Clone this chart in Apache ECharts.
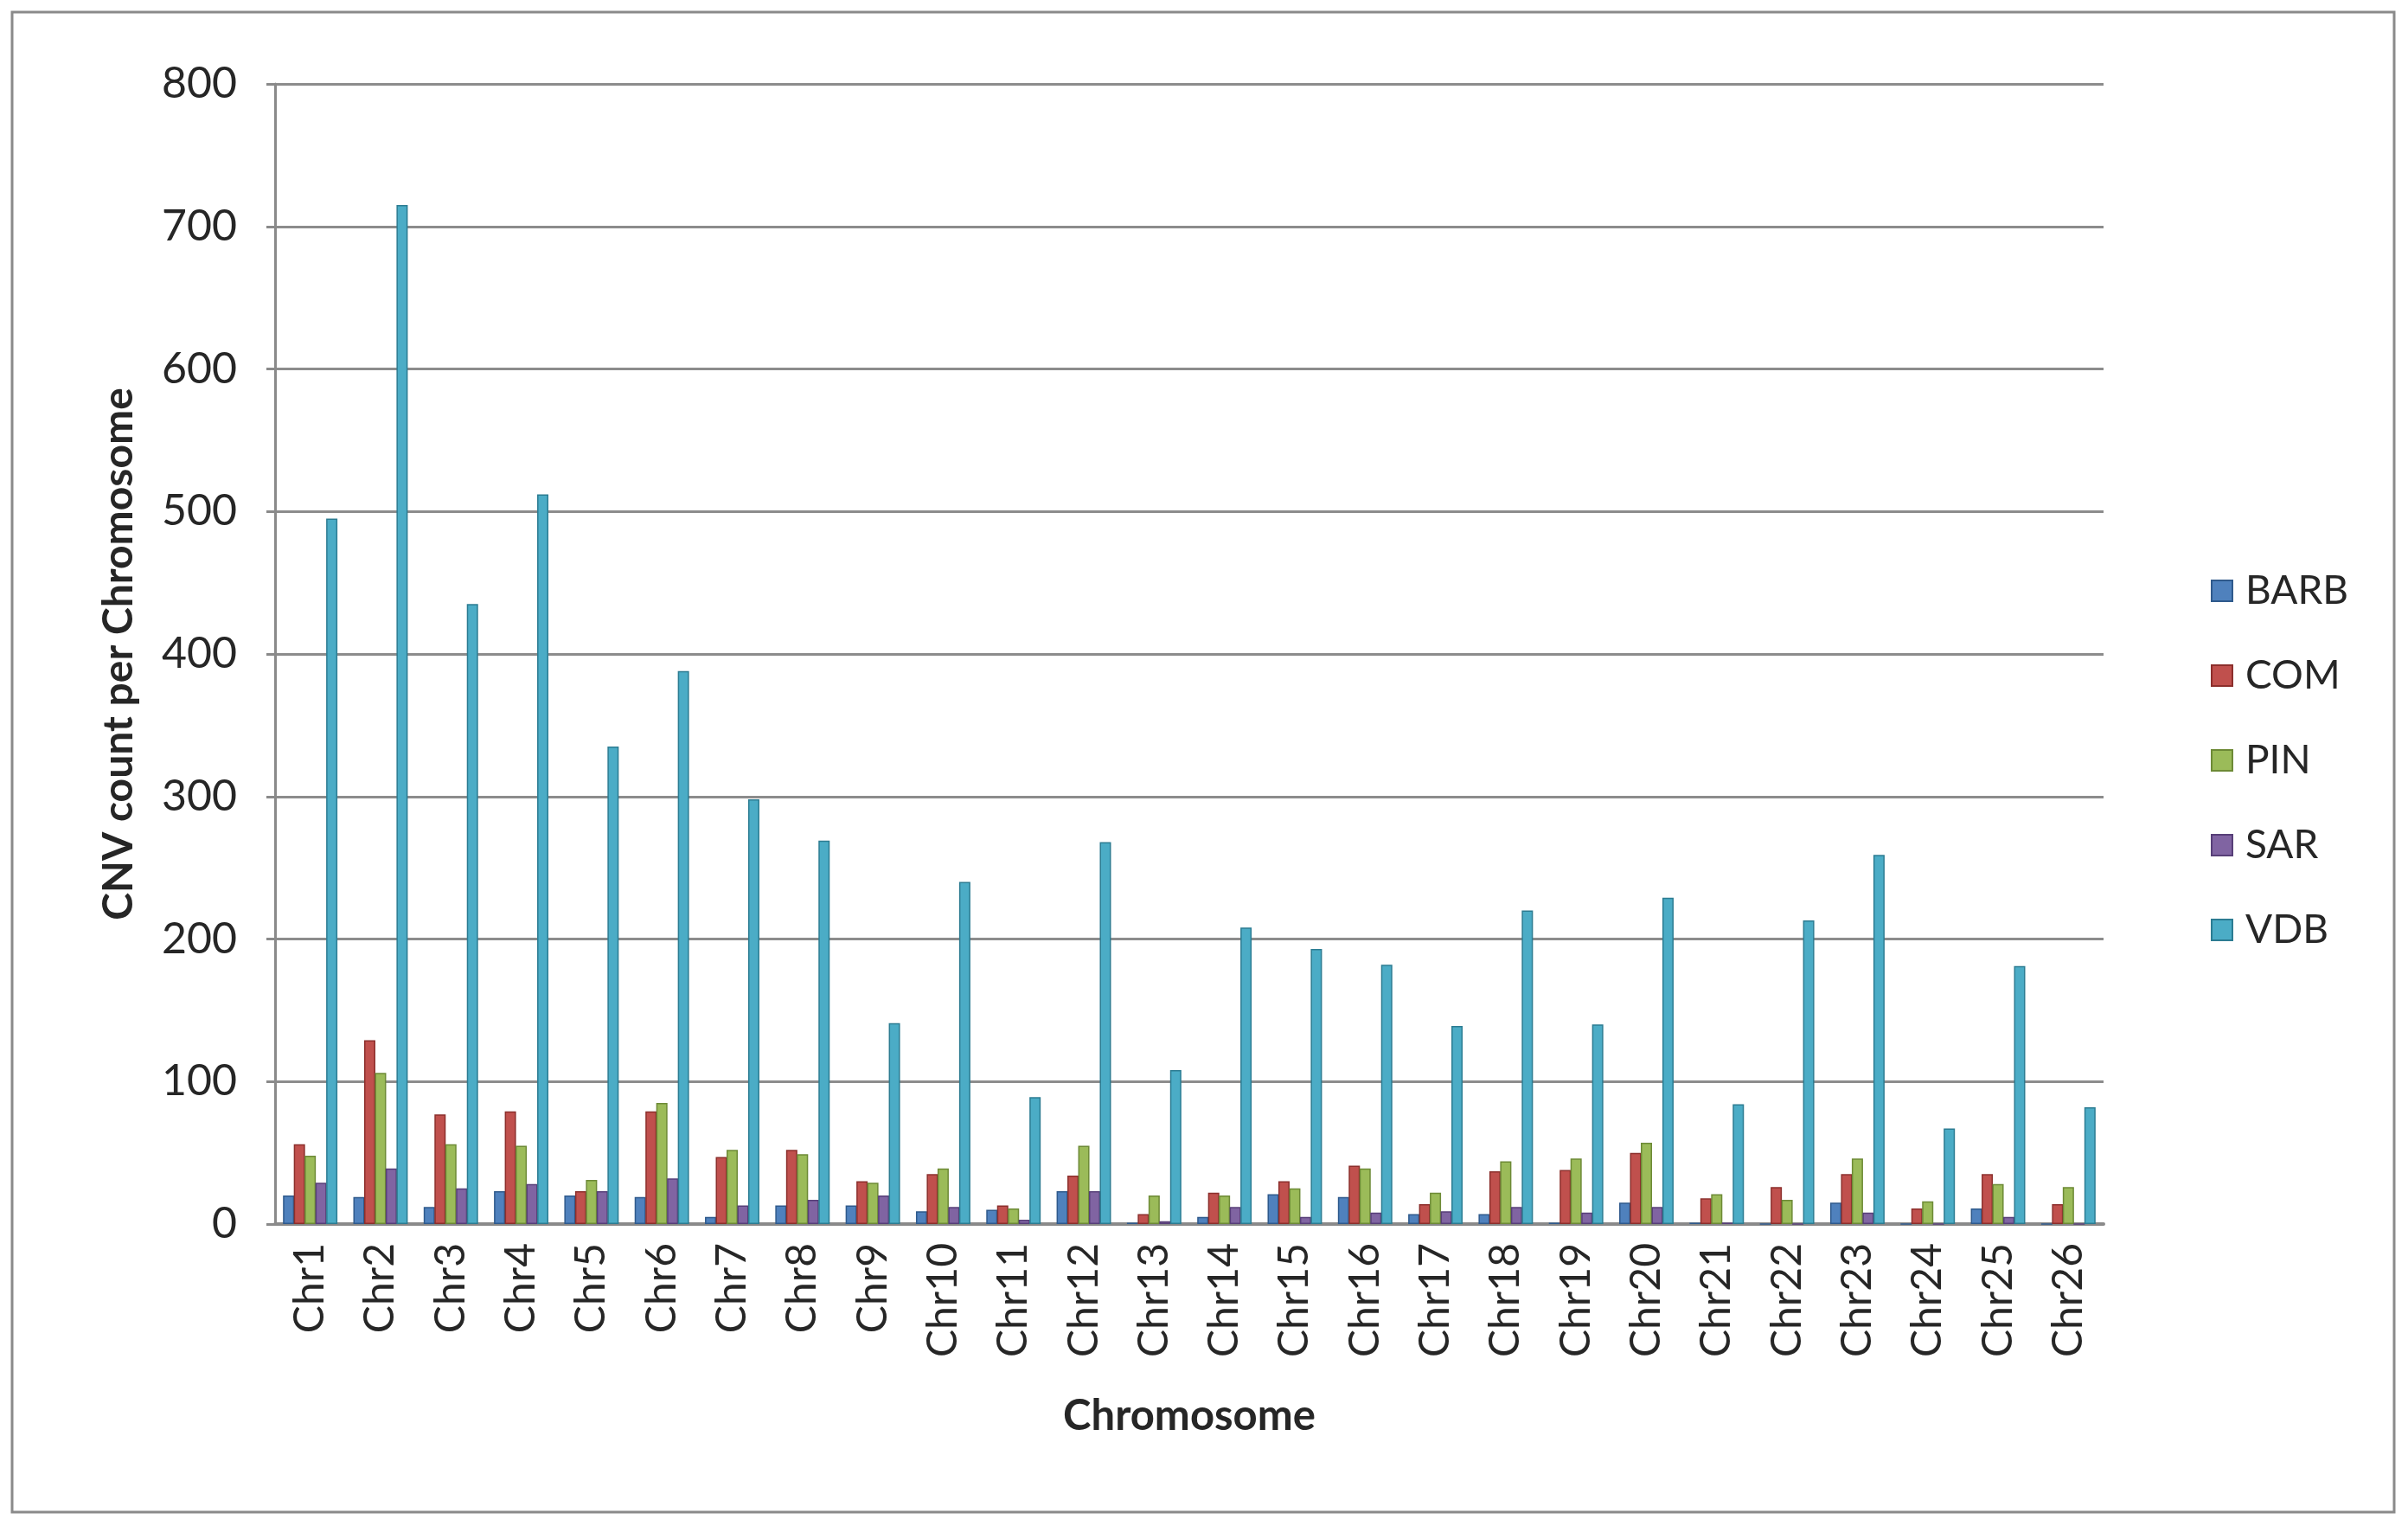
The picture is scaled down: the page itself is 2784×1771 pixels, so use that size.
<!DOCTYPE html>
<html>
<head>
<meta charset="utf-8">
<script src="https://cdn.jsdelivr.net/npm/echarts@6/dist/echarts.min.js"></script>
<style>
  html, body { margin: 0; padding: 0; background: #ffffff; }
  #chart { width: 2784px; height: 1771px; }
</style>
</head>
<body>
<div id="chart"></div>
<script>
const categories = ['Chr1','Chr2','Chr3','Chr4','Chr5','Chr6','Chr7','Chr8','Chr9','Chr10','Chr11','Chr12','Chr13','Chr14','Chr15','Chr16','Chr17','Chr18','Chr19','Chr20','Chr21','Chr22','Chr23','Chr24','Chr25','Chr26'];
const seriesNames = ['BARB', 'COM', 'PIN', 'SAR', 'VDB'];
const BARB = [20, 19, 12, 23, 20, 19, 5, 13, 13, 9, 10, 23, 1, 5, 21, 19, 7, 7, 1, 15, 1, 0, 15, 0, 11, 0];
const COM  = [56, 129, 77, 79, 23, 79, 47, 52, 30, 35, 13, 34, 7, 22, 30, 41, 14, 37, 38, 50, 18, 26, 35, 11, 35, 14];
const PIN  = [48, 106, 56, 55, 31, 85, 52, 49, 29, 39, 11, 55, 20, 20, 25, 39, 22, 44, 46, 57, 21, 17, 46, 16, 28, 26];
const SAR  = [29, 39, 25, 28, 23, 32, 13, 17, 20, 12, 3, 23, 2, 12, 5, 8, 9, 12, 8, 12, 1, 0, 8, 0, 5, 0];
const VDB  = [495, 715, 435, 512, 335, 388, 298, 269, 141, 240, 89, 268, 108, 208, 193, 182, 139, 220, 140, 229, 84, 213, 259, 67, 181, 82];
const yTicks = { min: 0, max: 800, interval: 100 };

const seriesData = [BARB, COM, PIN, SAR, VDB];
const colors = ['#4F81BD', '#C0504D', '#9BBB59', '#8064A2', '#4BACC6'];
const edgeColors = ['#2f5a8c', '#8c2f2c', '#6d8a36', '#573f78', '#2c7c92'];

const FONT = 'Lato, "Open Sans", sans-serif';
const TXT = '#262626';

const chart = echarts.init(document.getElementById('chart'), null, { renderer: 'canvas' });
chart.setOption({
  animation: false,
  backgroundColor: '#ffffff',
  graphic: [{
    type: 'rect',
    shape: { x: 14, y: 14, width: 2754, height: 1734 },
    style: { fill: 'none', stroke: '#8a8a8a', lineWidth: 3 },
    z: 0
  }],
  grid: { left: 318, right: 352, top: 97, bottom: 356, containLabel: false },
  legend: {
    orient: 'vertical',
    left: 2551,
    top: 655,
    data: seriesNames,
    icon: 'rect',
    itemWidth: 24,
    itemHeight: 24,
    itemGap: 52,
    textStyle: { fontFamily: FONT, fontSize: 46, color: TXT, padding: [0, 0, 0, 10] }
  },
  xAxis: {
    type: 'category',
    data: categories,
    name: 'Chromosome',
    nameLocation: 'middle',
    nameGap: 198,
    nameTextStyle: { fontFamily: FONT, fontSize: 49, fontWeight: 'bold', color: TXT },
    axisLine: { show: true, lineStyle: { color: '#8a8a8a', width: 4 } },
    axisTick: { show: false },
    axisLabel: { rotate: 90, margin: 22, fontFamily: FONT, fontSize: 48, color: TXT, interval: 0 },
    splitLine: { show: false }
  },
  yAxis: {
    type: 'value',
    min: yTicks.min,
    max: yTicks.max,
    interval: yTicks.interval,
    name: 'CNV count per Chromosome',
    nameLocation: 'middle',
    nameGap: 156,
    nameTextStyle: { fontFamily: FONT, fontSize: 48, fontWeight: 'bold', color: TXT },
    axisLine: { show: true, lineStyle: { color: '#8a8a8a', width: 3 } },
    axisTick: { show: true, length: 10, lineStyle: { color: '#8a8a8a', width: 3 } },
    axisLabel: { margin: 44, fontFamily: FONT, fontSize: 50, color: TXT },
    splitLine: { show: true, lineStyle: { color: '#8c8c8c', width: 3 } }
  },
  series: seriesNames.map((name, i) => ({
    name: name,
    type: 'bar',
    data: seriesData[i],
    barWidth: 13,
    barGap: '-4%',
    itemStyle: { color: colors[i], borderColor: edgeColors[i], borderWidth: 1.5 }
  }))
});
</script>
</body>
</html>
